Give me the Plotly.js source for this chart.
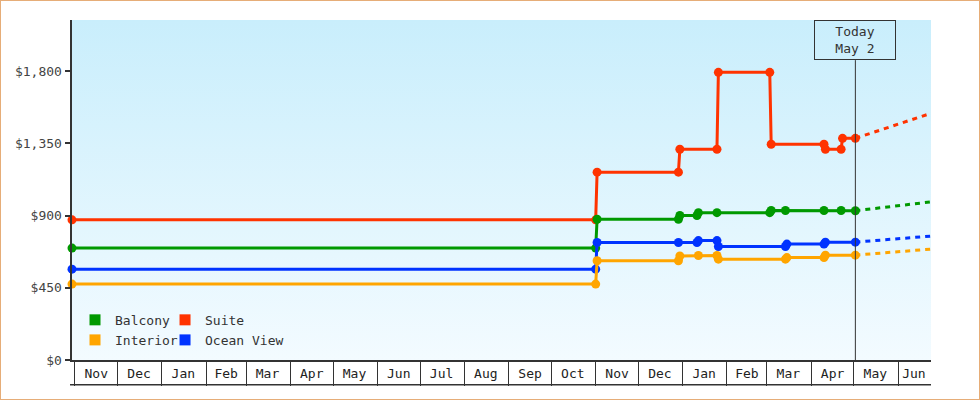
<!DOCTYPE html>
<html>
<head>
<meta charset="utf-8">
<script src="https://cdn.plot.ly/plotly-3.0.1.min.js"></script>
<style>
  body { margin: 0; background: #fff; }
  #frame { position: relative; width: 980px; height: 400px; box-sizing: border-box; border: 1px solid #e6ad78; }
  #bg { position: absolute; left: 71px; top: 19px; width: 859px; height: 340px;
        background: linear-gradient(#c9eefc, #f3fbff); }
  #chart { position: absolute; left: -1px; top: -1px; width: 980px; height: 400px; }
</style>
</head>
<body>
<div id="frame">
  <div id="bg"></div>
  <div id="chart"></div>
</div>
<script>
// cabin prices, step changes
const suiteDates = ['2021-10-30', '2022-11-01', '2022-11-02', '2022-12-29', '2022-12-30', '2023-01-25', '2023-01-26',
                    '2023-03-03', '2023-03-04', '2023-04-10', '2023-04-11', '2023-04-22', '2023-04-23', '2023-05-02'];
const suitePrices = [873, 873, 1170, 1170, 1313, 1313, 1792, 1792, 1344, 1344, 1313, 1313, 1381, 1381];

const balconyDates = ['2021-10-30', '2022-11-01', '2022-11-02', '2022-12-29', '2022-12-30', '2023-01-11', '2023-01-12',
                      '2023-01-25', '2023-03-03', '2023-03-04', '2023-03-14', '2023-04-10', '2023-04-22', '2023-05-02'];
const balconyPrices = [697, 697, 877, 877, 900, 900, 918, 918, 918, 931, 931, 931, 931, 930];

const oceanDates = ['2021-10-30', '2022-11-01', '2022-11-02', '2022-12-29', '2023-01-11', '2023-01-12', '2023-01-25',
                    '2023-01-26', '2023-03-14', '2023-03-15', '2023-04-10', '2023-04-11', '2023-05-02'];
const oceanPrices = [566, 566, 732, 732, 732, 744, 744, 707, 707, 722, 722, 734, 734];

const interiorDates = ['2021-10-30', '2022-11-01', '2022-11-02', '2022-12-29', '2022-12-30', '2023-01-12', '2023-01-25',
                       '2023-01-26', '2023-03-14', '2023-03-15', '2023-04-10', '2023-04-11', '2023-05-02'];
const interiorPrices = [473, 473, 618, 618, 648, 651, 651, 628, 628, 638, 638, 653, 653];

// projection past today
const forecastDates = ['2023-05-02', '2023-06-24'];
const suiteForecast = [1381, 1537];
const balconyForecast = [930, 985];
const oceanForecast = [734, 772];
const interiorForecast = [653, 691];

const today = '2023-05-02';
const todayLabel = 'Today<br>May 2';

// month labels sit in the middle of each month box (Jun is cut off by the range)
const monthMid = ['2021-11-16', '2021-12-16', '2022-01-16', '2022-02-15', '2022-03-16', '2022-04-16', '2022-05-16',
                  '2022-06-16', '2022-07-16', '2022-08-16', '2022-09-16', '2022-10-16', '2022-11-16', '2022-12-16',
                  '2023-01-16', '2023-02-15', '2023-03-16', '2023-04-16', '2023-05-16', '2023-06-12'];
const monthNames = ['Nov', 'Dec', 'Jan', 'Feb', 'Mar', 'Apr', 'May', 'Jun', 'Jul', 'Aug', 'Sep', 'Oct',
                    'Nov', 'Dec', 'Jan', 'Feb', 'Mar', 'Apr', 'May', 'Jun'];

const yTicks = [0, 450, 900, 1350, 1800];
const yTickText = yTicks.map(v => '$' + v.toLocaleString('en-US'));

const font = 'DejaVu Sans Mono, monospace';
const ink = '#333';

const series = [
    { name: 'Suite', color: '#ff3300', x: suiteDates, y: suitePrices, fy: suiteForecast },
    { name: 'Balcony', color: '#009900', x: balconyDates, y: balconyPrices, fy: balconyForecast },
    { name: 'Ocean View', color: '#0033ff', x: oceanDates, y: oceanPrices, fy: oceanForecast },
    { name: 'Interior', color: '#ffa500', x: interiorDates, y: interiorPrices, fy: interiorForecast }
];

const traces = [];

series.forEach(s => {
    // dashed projection
    traces.push({
        x: forecastDates, y: s.fy, mode: 'lines', showlegend: false, hoverinfo: 'skip',
        line: { color: s.color, width: 3, dash: '5px,5px' }
    });
    traces.push({
        x: s.x, y: s.y, mode: 'lines+markers', name: s.name, showlegend: false,
        line: { color: s.color, width: 3 },
        marker: { color: s.color, size: 9, symbol: 'circle' },
        cliponaxis: false
    });
});

// legend keys, one small legend each so the two columns line up
const legendItems = [
    { name: 'Balcony', color: '#009900', legend: 'legend', col: 0, row: 0 },
    { name: 'Suite', color: '#ff3300', legend: 'legend2', col: 1, row: 0 },
    { name: 'Interior', color: '#ffa500', legend: 'legend3', col: 0, row: 1 },
    { name: 'Ocean View', color: '#0033ff', legend: 'legend4', col: 1, row: 1 }
];
legendItems.forEach(it => {
    traces.push({
        x: [null], y: [null], mode: 'markers', name: it.name, legend: it.legend,
        marker: { color: it.color, size: 11, symbol: 'square' }
    });
});

const layout = {
    width: 980, height: 400,
    margin: { l: 72, r: 49, t: 20, b: 40 },
    paper_bgcolor: 'rgba(0,0,0,0)',
    plot_bgcolor: 'rgba(0,0,0,0)',
    font: { family: font, size: 13, color: ink },
    showlegend: true,
    xaxis: {
        type: 'date',
        range: ['2021-10-30', '2023-06-24'],
        tickmode: 'array', tickvals: monthMid, ticktext: monthNames,
        ticks: '', ticklabelstandoff: 1,
        minor: { tick0: '2021-11-01', dtick: 'M1', ticks: 'outside', ticklen: 24, tickwidth: 1,
                 tickcolor: ink, showgrid: false },
        showline: true, linecolor: ink, linewidth: 1.5,
        showgrid: false, zeroline: false,
        tickfont: { family: font, size: 13, color: '#222' }
    },
    yaxis: {
        range: [0, 2118],
        tickmode: 'array', tickvals: yTicks, ticktext: yTickText,
        ticks: 'outside', ticklen: 5, tickwidth: 2, tickcolor: ink,
        showline: true, linecolor: ink, linewidth: 2.5,
        showgrid: false, zeroline: false,
        tickfont: { family: font, size: 13, color: '#444' }
    },
    shapes: [
        // today marker line
        { type: 'line', xref: 'x', yref: 'paper', x0: today, x1: today, y0: 0, y1: 0.882,
          line: { color: ink, width: 1 } },
        // bottom edge of the month boxes
        { type: 'line', xref: 'paper', yref: 'paper', x0: -0.0023, x1: 1, y0: -0.0725, y1: -0.0725,
          line: { color: ink, width: 1.5 } }
    ],
    annotations: [
        { x: today, xref: 'x', y: 1, yref: 'paper', yanchor: 'top', showarrow: false,
          text: todayLabel, width: 80, height: 38, borderpad: 0, borderwidth: 1, bordercolor: ink,
          font: { family: font, size: 13, color: ink } }
    ]
};

legendItems.forEach(it => {
    layout[it.legend] = {
        x: 0.0035 + it.col * 0.1048, y: 0.118 - it.row * 0.059,
        xanchor: 'left', yanchor: 'middle',
        bgcolor: 'rgba(0,0,0,0)', borderwidth: 0, itemwidth: 30,
        font: { family: font, size: 13, color: ink }
    };
});

Plotly.newPlot('chart', traces, layout, { staticPlot: true });
</script>
</body>
</html>
